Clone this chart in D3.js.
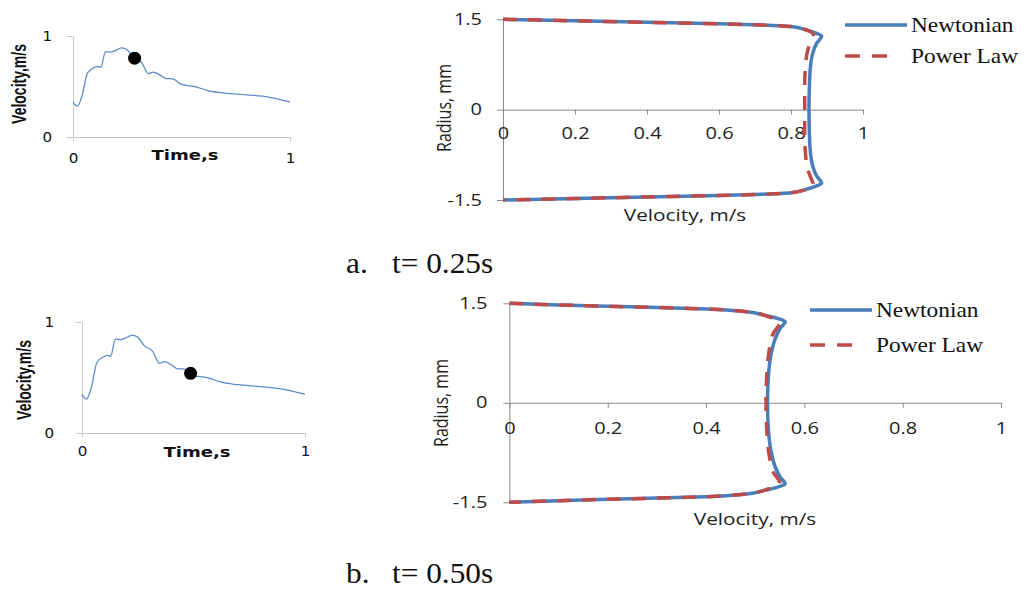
<!DOCTYPE html>
<html><head><meta charset="utf-8">
<script src="https://cdn.jsdelivr.net/npm/d3@7"></script>
<style>body{margin:0;background:#fff} svg{display:block}</style>
</head><body>
<svg id="c" width="1026" height="593"></svg>
<script>
// ---------- data ----------
const waveTime = [0, 0.02, 0.04, 0.067, 0.1, 0.115, 0.128, 0.15, 0.173, 0.195, 0.225, 0.248, 0.28, 0.315, 0.348, 0.37, 0.40, 0.43, 0.455, 0.50, 0.57, 0.62, 0.70, 0.80, 0.90, 1.0];
const waveVel  = [0.345, 0.305, 0.395, 0.635, 0.69, 0.70, 0.69, 0.845, 0.84, 0.855, 0.882, 0.866, 0.785, 0.74, 0.627, 0.643, 0.615, 0.577, 0.578, 0.52, 0.495, 0.46, 0.435, 0.418, 0.395, 0.347];
const markerTime = [0.284, 0.487];
const markerVel  = [0.78, 0.538];
const waveTicks = [0, 1];
const velocityTicks = [0, 0.2, 0.4, 0.6, 0.8, 1];
const radiusTicks = [-1.5, 0, 1.5];
const seriesNames = ["Newtonian", "Power Law"];
const panelLetters = ["a.", "b."];
const panelTimes = ["t= 0.25s", "t= 0.50s"];
const waveXTitle = "Time,s";
const waveYTitle = "Velocity,m/s";
const profXTitle = "Velocity, m/s";
const profYTitle = "Radius, mm";

// panel a (t = 0.25 s)
const aNewtVel = [0, 0.2, 0.4, 0.6, 0.72, 0.8, 0.843, 0.871, 0.885, 0.871, 0.86, 0.854, 0.851, 0.85, 0.851, 0.854, 0.86, 0.871, 0.885, 0.871, 0.843, 0.8, 0.72, 0.6, 0.4, 0.2, 0];
const aNewtRad = [1.5, 1.475, 1.45, 1.425, 1.405, 1.38, 1.322, 1.267, 1.222, 1.1, 0.93, 0.71, 0.38, 0, -0.38, -0.71, -0.93, -1.1, -1.222, -1.267, -1.322, -1.38, -1.405, -1.425, -1.45, -1.475, -1.5];
const aPowVel  = [0, 0.2, 0.4, 0.6, 0.72, 0.8, 0.848, 0.862, 0.857, 0.848, 0.84, 0.838, 0.838, 0.838, 0.84, 0.848, 0.857, 0.862, 0.848, 0.8, 0.72, 0.6, 0.4, 0.2, 0];
const aPowRad  = [1.5, 1.475, 1.45, 1.425, 1.405, 1.38, 1.31, 1.24, 1.156, 1.02, 0.71, 0.38, 0, -0.38, -0.71, -1.02, -1.156, -1.24, -1.31, -1.38, -1.405, -1.425, -1.45, -1.475, -1.5];
// panel b (t = 0.50 s)
const bNewtVel = [0, 0.1, 0.2, 0.3, 0.4, 0.483, 0.517, 0.544, 0.561, 0.551, 0.541, 0.532, 0.527, 0.525, 0.527, 0.532, 0.541, 0.551, 0.561, 0.544, 0.517, 0.483, 0.4, 0.3, 0.2, 0.1, 0];
const bNewtRad = [1.5, 1.475, 1.455, 1.437, 1.415, 1.374, 1.324, 1.274, 1.224, 1.123, 0.972, 0.721, 0.417, 0, -0.417, -0.721, -0.972, -1.123, -1.224, -1.274, -1.324, -1.374, -1.415, -1.437, -1.455, -1.475, -1.5];
const bPowVel  = [0, 0.1, 0.2, 0.3, 0.4, 0.483, 0.526, 0.55, 0.537, 0.528, 0.524, 0.522, 0.524, 0.528, 0.537, 0.55, 0.526, 0.483, 0.4, 0.3, 0.2, 0.1, 0];
const bPowRad  = [1.5, 1.475, 1.455, 1.437, 1.415, 1.374, 1.30, 1.21, 1.05, 0.77, 0.47, 0, -0.47, -0.77, -1.05, -1.21, -1.30, -1.374, -1.415, -1.437, -1.455, -1.475, -1.5];

// ---------- helpers ----------
const svg = d3.select("#c");
const BLUE = "#4A7EBB", RED = "#BE4B48";
const plain = d => String(d);

function stretch(sel, k, anchor) {
  sel.each(function () {
    const b = this.getBBox();
    const ax = anchor === "end" ? b.x + b.width : anchor === "start" ? b.x : b.x + b.width / 2;
    d3.select(this).attr("transform", `translate(${ax},0) scale(${k},1) translate(${-ax},0)`);
  });
}
function vText(g, x, y, txt, font, size, weight, k, color) {
  g.append("text")
    .attr("transform", `translate(${x},${y}) rotate(-90) scale(1,${k})`)
    .attr("text-anchor", "middle")
    .style("font-family", font).style("font-size", size + "px").style("font-weight", weight)
    .attr("fill", color).text(txt);
}

// ---------- small waveform chart ----------
function drawWave(cfg, mi) {
  const x = d3.scaleLinear().domain([0, 1]).range([cfg.x0, cfg.x1]);
  const y = d3.scaleLinear().domain([0, 1]).range([cfg.yb, cfg.yt]);
  const g = svg.append("g");
  const ya = g.append("g").attr("transform", `translate(${cfg.x0},0)`)
    .call(d3.axisLeft(y).tickValues(waveTicks).tickSize(6).tickSizeOuter(0).tickPadding(cfg.yPad).tickFormat(plain));
  const xa = g.append("g").attr("transform", `translate(0,${cfg.yb})`)
    .call(d3.axisBottom(x).tickValues(waveTicks).tickSize(4).tickSizeOuter(0).tickPadding(cfg.xPad).tickFormat(plain));
  [ya, xa].forEach(a => {
    a.selectAll("path,line").attr("stroke", "#c8c8c8").attr("stroke-width", 1);
    a.selectAll("text").style("font-family", "DejaVu Sans").style("font-size", "13.5px").attr("fill", "#111");
  });
  stretch(ya.selectAll("text"), 1.12, "end");
  stretch(xa.selectAll("text"), 1.12, "middle");

  const idx = d3.range(waveTime.length);
  g.append("path").datum(idx)
    .attr("d", d3.line().x(i => x(waveTime[i])).y(i => y(waveVel[i])).curve(d3.curveMonotoneX))
    .attr("fill", "none").attr("stroke", "#5b8ccb").attr("stroke-width", 1.3);
  g.append("circle").attr("cx", x(markerTime[mi])).attr("cy", y(markerVel[mi])).attr("r", 6.5).attr("fill", "#000");

  const t = g.append("text").attr("x", cfg.tx).attr("y", cfg.ty).attr("text-anchor", "middle")
    .style("font-family", "DejaVu Sans").style("font-weight", "bold").style("font-size", "14px")
    .attr("fill", "#111").text(waveXTitle);
  stretch(t, 1.29, "middle");
  vText(g, cfg.vx, cfg.vy, waveYTitle, "Liberation Sans", 14, "bold", 1.4, "#111");
}

// ---------- profile chart ----------
function drawProfile(cfg, nv, nr, pv, pr) {
  const x = d3.scaleLinear().domain([0, 1]).range([cfg.x0, cfg.x1]);
  const y = d3.scaleLinear().domain([-1.5, 1.5]).range([cfg.yb, cfg.yt]);
  const g = svg.append("g");
  const ya = g.append("g").attr("transform", `translate(${cfg.x0},0)`)
    .call(d3.axisLeft(y).tickValues(radiusTicks).tickSize(6).tickSizeOuter(0).tickPadding(cfg.yPad).tickFormat(plain));
  const xa = g.append("g").attr("transform", `translate(0,${y(0)})`)
    .call(d3.axisBottom(x).tickValues(velocityTicks).tickSize(5).tickSizeOuter(0).tickPadding(cfg.xPad).tickFormat(plain));
  [ya, xa].forEach(a => {
    a.selectAll("path,line").attr("stroke", "#8a8a8a").attr("stroke-width", 1);
    a.selectAll("text").style("font-family", "Open Sans").style("font-size", "16px").attr("fill", "#222");
  });
  stretch(ya.selectAll("text"), 1.25, "end");
  stretch(xa.selectAll("text"), 1.25, "middle");

  const ln = (vel, rad) => d3.line().x(i => x(vel[i])).y(i => y(rad[i])).curve(d3.curveMonotoneY)(d3.range(vel.length));
  g.append("path").attr("d", ln(nv, nr)).attr("fill", "none").attr("stroke", BLUE).attr("stroke-width", 3.5);
  g.append("path").attr("d", ln(pv, pr)).attr("fill", "none").attr("stroke", RED).attr("stroke-width", 3.5)
    .attr("stroke-dasharray", "14,11");

  const xt = g.append("text").attr("x", cfg.tx).attr("y", cfg.ty).attr("text-anchor", "middle")
    .style("font-family", "Open Sans").style("font-size", "16px").attr("fill", "#222").text(profXTitle);
  stretch(xt, 1.3, "middle");
  vText(g, cfg.rx, cfg.ry, profYTitle, "Open Sans", 16, "normal", 1.3, "#222");

  // legend
  const L = g.append("g");
  L.append("line").attr("x1", cfg.lx).attr("x2", cfg.lx + 62).attr("y1", cfg.ly).attr("y2", cfg.ly)
    .attr("stroke", BLUE).attr("stroke-width", 3.5);
  L.append("line").attr("x1", cfg.lx).attr("x2", cfg.lx + 50).attr("y1", cfg.ly + cfg.lgap).attr("y2", cfg.ly + cfg.lgap)
    .attr("stroke", RED).attr("stroke-width", 3.5).attr("stroke-dasharray", "15,12");
  seriesNames.forEach((s, i) => {
    const tx = L.append("text").attr("x", cfg.lx + 66).attr("y", cfg.ly + i * cfg.lgap + 7)
      .style("font-family", "Liberation Serif").style("font-size", "20.5px").attr("fill", "#111").text(s);
    stretch(tx, 1.14, "start");
  });
}

// ---------- panels ----------
drawWave({x0: 73, x1: 290, yb: 137, yt: 36, yPad: 15, xPad: 12, tx: 185, ty: 160, vx: 26, vy: 84}, 0);
drawWave({x0: 82, x1: 305, yb: 433, yt: 322, yPad: 22, xPad: 9, tx: 197, ty: 457, vx: 31, vy: 380}, 1);

drawProfile({x0: 503, x1: 863, yb: 200, yt: 19.3, yPad: 15, xPad: 13, tx: 685, ty: 221, rx: 451, ry: 108,
  lx: 845, ly: 25, lgap: 31}, aNewtVel, aNewtRad, aPowVel, aPowRad);
drawProfile({x0: 509.4, x1: 1001, yb: 502.3, yt: 303.3, yPad: 16, xPad: 15, tx: 755, ty: 525, rx: 448, ry: 403,
  lx: 810, ly: 310, lgap: 35}, bNewtVel, bNewtRad, bPowVel, bPowRad);

// panel captions
[[273, 0], [583, 1]].forEach(([by, i]) => {
  const a = svg.append("text").attr("x", 346).attr("y", by)
    .style("font-family", "Liberation Serif").style("font-size", "29px").attr("fill", "#111").text(panelLetters[i]);
  stretch(a, 1.08, "start");
  const t = svg.append("text").attr("x", 392).attr("y", by)
    .style("font-family", "Liberation Serif").style("font-size", "29px").attr("fill", "#111").text(panelTimes[i]);
  stretch(t, 1.08, "start");
});
</script>
</body></html>
